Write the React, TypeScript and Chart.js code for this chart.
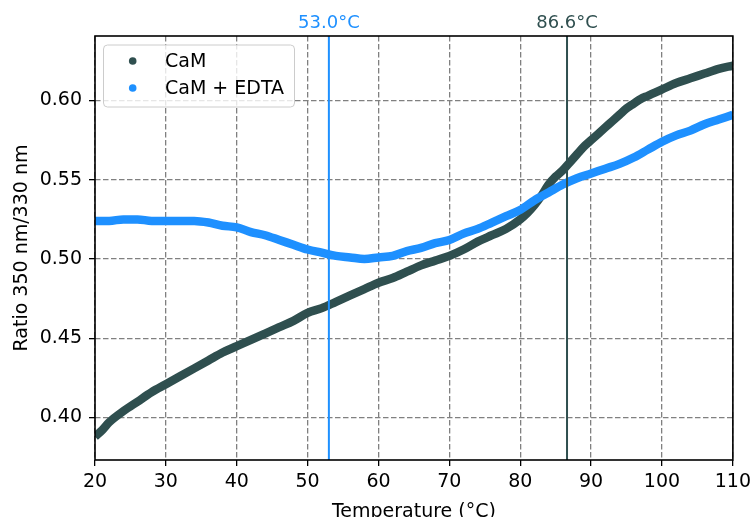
import React, { useEffect, useRef } from "react";
import { Chart, registerables } from "chart.js";

Chart.register(...registerables);

const SERIES_NAMES = ["CaM", "CaM + EDTA"];

const TEMP_CAM = [20, 21, 22, 24, 26, 28, 30, 32, 34, 36, 38, 40, 42, 44, 46, 48, 50, 52, 54, 56, 58, 60, 62, 64, 66, 68, 70, 72, 74, 76, 78, 80, 81, 82, 83, 84, 85, 86, 87, 88, 89, 90, 91, 92, 93, 94, 95, 96, 97, 98, 99, 100, 102, 104, 106, 108, 110];
const RATIO_CAM = [0.388, 0.392, 0.397, 0.404, 0.410, 0.416, 0.421, 0.426, 0.431, 0.436, 0.441, 0.445, 0.449, 0.453, 0.457, 0.461, 0.466, 0.469, 0.473, 0.477, 0.481, 0.485, 0.488, 0.492, 0.496, 0.499, 0.502, 0.506, 0.511, 0.515, 0.519, 0.525, 0.529, 0.534, 0.540, 0.547, 0.552, 0.556, 0.561, 0.566, 0.571, 0.575, 0.579, 0.583, 0.587, 0.591, 0.595, 0.598, 0.601, 0.603, 0.605, 0.607, 0.611, 0.614, 0.617, 0.620, 0.622];

const TEMP_EDTA = [20, 22, 24, 26, 28, 30, 32, 34, 36, 38, 40, 42, 44, 46, 48, 50, 52, 54, 56, 58, 60, 62, 64, 66, 68, 70, 72, 74, 76, 78, 80, 82, 84, 86, 88, 90, 92, 94, 96, 98, 100, 102, 104, 106, 108, 110];
const RATIO_EDTA = [0.524, 0.524, 0.525, 0.525, 0.524, 0.524, 0.524, 0.524, 0.523, 0.521, 0.520, 0.517, 0.515, 0.512, 0.509, 0.506, 0.504, 0.502, 0.501, 0.500, 0.501, 0.502, 0.505, 0.507, 0.510, 0.512, 0.516, 0.519, 0.523, 0.527, 0.531, 0.537, 0.542, 0.547, 0.551, 0.554, 0.557, 0.560, 0.564, 0.569, 0.574, 0.578, 0.581, 0.585, 0.588, 0.591];

const X_TICKS = [20, 30, 40, 50, 60, 70, 80, 90, 100, 110];
const Y_TICKS = [0.40, 0.45, 0.50, 0.55, 0.60];
const X_RANGE = [20, 110];
const Y_RANGE = [0.3732, 0.6407];

const TM_VALUES = [53.0, 86.6];
const TM_LABELS = ["53.0°C", "86.6°C"];

const X_TITLE = "Temperature (°C)";
const Y_TITLE = "Ratio 350 nm/330 nm";

const DARK = "#2f4f4f";
const BLUE = "#1e90ff";
const GRID = "#808080";
const FONT_FAMILY = '"DejaVu Sans", sans-serif';
const FONT_SIZE = 19;

export default function App() {
  const canvasRef = useRef<HTMLCanvasElement | null>(null);

  useEffect(() => {
    const canvas = canvasRef.current;
    if (!canvas) return;

    const overlay = {
      id: "overlay",
      afterDatasetsDraw(chart: any) {
        const { ctx, chartArea } = chart;
        const { top, bottom } = chartArea;
        const xs = chart.scales.x;
        const colors = [BLUE, DARK];
        ctx.save();
        TM_VALUES.forEach((v, i) => {
          const px = xs.getPixelForValue(v);
          ctx.strokeStyle = colors[i];
          ctx.lineWidth = 2;
          ctx.beginPath();
          ctx.moveTo(px, top);
          ctx.lineTo(px, bottom);
          ctx.stroke();
          ctx.fillStyle = colors[i];
          ctx.font = `${FONT_SIZE - 1}px ${FONT_FAMILY}`;
          ctx.textAlign = "center";
          ctx.textBaseline = "alphabetic";
          ctx.fillText(TM_LABELS[i], px, 28);
        });
        ctx.restore();
      },
      afterDraw(chart: any) {
        const { ctx, chartArea } = chart;
        const { left, right, top, bottom } = chartArea;
        ctx.save();
        // spines
        ctx.strokeStyle = "#000";
        ctx.lineWidth = 1.6;
        ctx.strokeRect(left, top, right - left, bottom - top);

        // legend
        const lx = 103.5, ly = 45, lw = 191, lh = 62, r = 4;
        ctx.beginPath();
        ctx.moveTo(lx + r, ly);
        ctx.lineTo(lx + lw - r, ly);
        ctx.quadraticCurveTo(lx + lw, ly, lx + lw, ly + r);
        ctx.lineTo(lx + lw, ly + lh - r);
        ctx.quadraticCurveTo(lx + lw, ly + lh, lx + lw - r, ly + lh);
        ctx.lineTo(lx + r, ly + lh);
        ctx.quadraticCurveTo(lx, ly + lh, lx, ly + lh - r);
        ctx.lineTo(lx, ly + r);
        ctx.quadraticCurveTo(lx, ly, lx + r, ly);
        ctx.closePath();
        ctx.fillStyle = "rgba(255,255,255,0.8)";
        ctx.fill();
        ctx.strokeStyle = "#cccccc";
        ctx.lineWidth = 1;
        ctx.stroke();

        const colors = [DARK, BLUE];
        const rows = [61, 88];
        ctx.font = `${FONT_SIZE}px ${FONT_FAMILY}`;
        ctx.textAlign = "left";
        ctx.textBaseline = "middle";
        SERIES_NAMES.forEach((name, i) => {
          ctx.fillStyle = colors[i];
          ctx.beginPath();
          ctx.arc(132.7, rows[i], 3.8, 0, Math.PI * 2);
          ctx.fill();
          ctx.fillStyle = "#000";
          ctx.fillText(name, 165, rows[i] + 1);
        });

        // axis titles
        ctx.fillStyle = "#000";
        ctx.font = `${FONT_SIZE}px ${FONT_FAMILY}`;
        ctx.textAlign = "center";
        ctx.textBaseline = "alphabetic";
        ctx.fillText(X_TITLE, (left + right) / 2, 517);
        ctx.save();
        ctx.translate(27, (top + bottom) / 2);
        ctx.rotate(-Math.PI / 2);
        ctx.fillText(Y_TITLE, 0, 0);
        ctx.restore();
        ctx.restore();
      },
    };

    const tickFont = { family: FONT_FAMILY, size: FONT_SIZE };
    const gridOpts = {
      color: GRID,
      lineWidth: 1.3,
      tickLength: 6,
      tickColor: "#000",
      tickWidth: 1.3,
      tickBorderDash: [],
    };

    const chart = new Chart(canvas, {
      type: "scatter",
      data: {
        datasets: [
          {
            label: SERIES_NAMES[0],
            data: TEMP_CAM.map((t, i) => ({ x: t, y: RATIO_CAM[i] })),
            showLine: true,
            borderColor: DARK,
            backgroundColor: DARK,
            borderWidth: 8.5,
            pointRadius: 0,
            cubicInterpolationMode: "monotone",
            borderCapStyle: "butt",
            borderJoinStyle: "round",
            clip: 0,
            order: 1,
          },
          {
            label: SERIES_NAMES[1],
            data: TEMP_EDTA.map((t, i) => ({ x: t, y: RATIO_EDTA[i] })),
            showLine: true,
            borderColor: BLUE,
            backgroundColor: BLUE,
            borderWidth: 8.5,
            pointRadius: 0,
            cubicInterpolationMode: "monotone",
            borderCapStyle: "butt",
            borderJoinStyle: "round",
            clip: 0,
            order: 0,
          },
        ],
      } as any,
      options: {
        responsive: false,
        animation: false,
        devicePixelRatio: 1,
        layout: { padding: { top: 36, right: 20, left: 0, bottom: 0 } },
        plugins: {
          legend: { display: false },
          tooltip: { enabled: false },
        },
        scales: {
          x: {
            type: "linear",
            min: X_RANGE[0],
            max: X_RANGE[1],
            afterBuildTicks: (s: any) => {
              s.ticks = X_TICKS.map((v) => ({ value: v }));
            },
            afterFit: (s: any) => {
              s.height = 57;
            },
            ticks: {
              font: tickFont,
              color: "#000",
              padding: 5,
              maxRotation: 0,
              autoSkip: false,
              callback: (v: any) => String(v),
            },
            grid: gridOpts,
            border: { display: false, dash: [5.5, 2.5] },
          },
          y: {
            type: "linear",
            min: Y_RANGE[0],
            max: Y_RANGE[1],
            afterBuildTicks: (s: any) => {
              s.ticks = Y_TICKS.map((v) => ({ value: v }));
            },
            afterFit: (s: any) => {
              s.width = 95;
            },
            ticks: {
              font: tickFont,
              color: "#000",
              padding: 7,
              autoSkip: false,
              callback: (v: any) => Number(v).toFixed(2),
            },
            grid: gridOpts,
            border: { display: false, dash: [5.5, 2.5] },
          },
        },
      } as any,
      plugins: [overlay],
    });

    return () => {
      chart.destroy();
    };
  }, []);

  return (
    <div style={{ position: "absolute", left: 0, top: 0, width: 756, height: 517, background: "#fff" }}>
      <canvas ref={canvasRef} width={756} height={517} style={{ width: 756, height: 517, display: "block" }} />
    </div>
  );
}
